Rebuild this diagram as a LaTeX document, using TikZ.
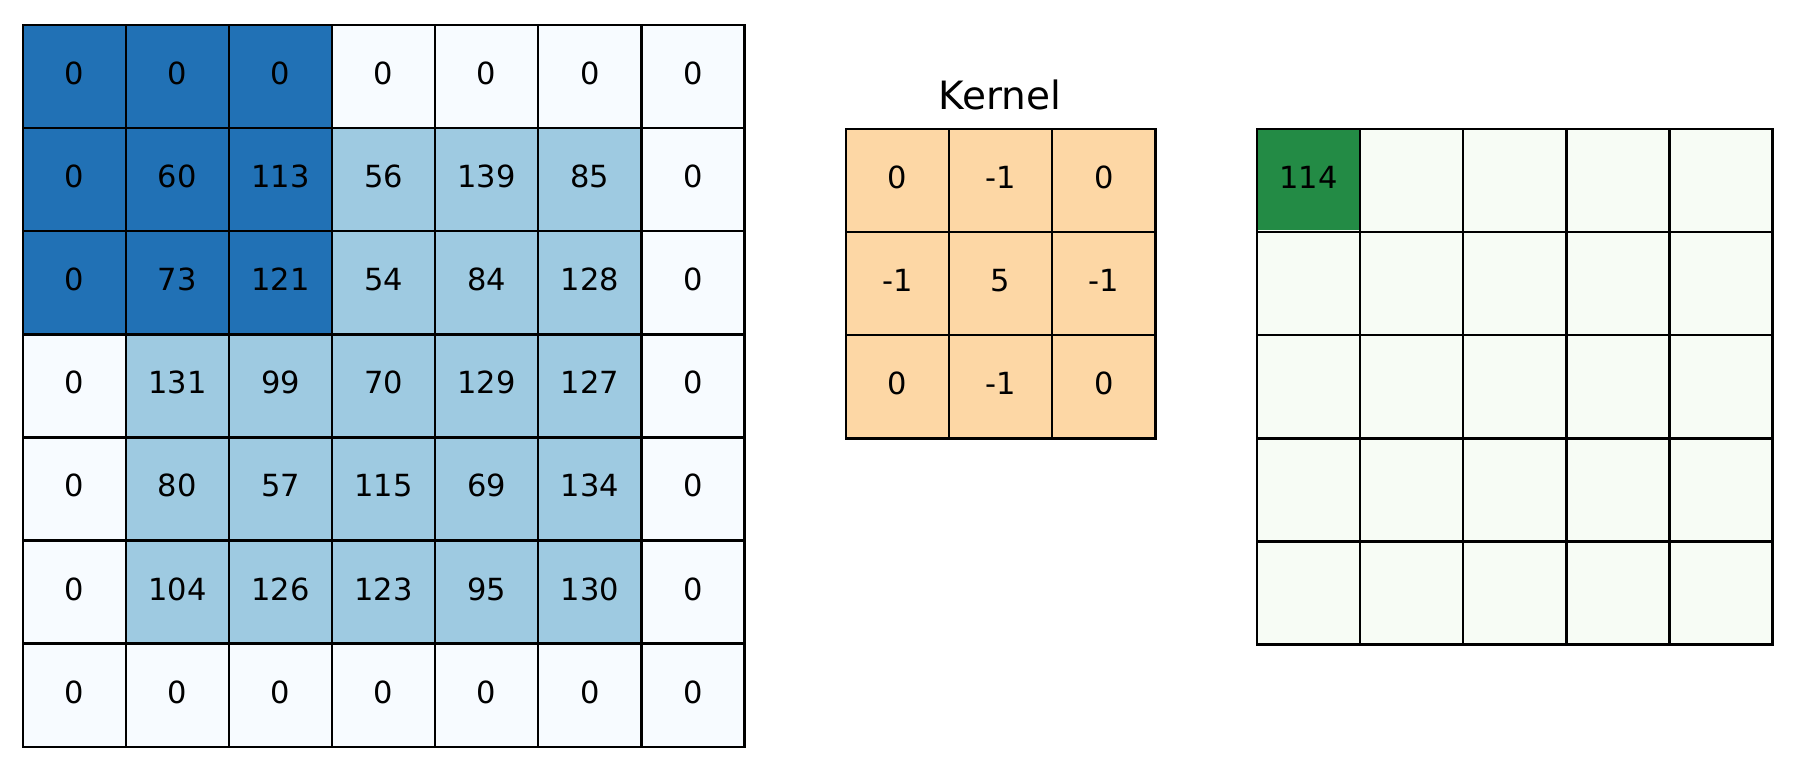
\documentclass[tikz,border=0pt]{standalone}
\usepackage{fontspec}
\setmainfont{DejaVu Sans}
\definecolor{padc}{HTML}{F7FBFF}
\definecolor{inc}{HTML}{9ECAE1}
\definecolor{hlblue}{HTML}{2171B5}
\definecolor{kerc}{RGB}{253,215,165}
\definecolor{outc}{HTML}{F7FCF5}
\definecolor{hlgreen}{HTML}{238B45}
\pgfdeclarelayer{bg}
\pgfdeclarelayer{mid}
\pgfsetlayers{bg,mid,main}
\begin{document}
\begin{tikzpicture}[x=1pt,y=-1pt,
  cellbox/.style={draw=black, line width=2.4pt, minimum size=103.1pt, inner sep=0pt,
    text height=22pt, text depth=6pt, font=\fontsize{30.5}{36}\selectfont},
  titletext/.style={anchor=base, inner sep=0pt, font=\fontsize{39}{46}\selectfont}]
\begin{pgfonlayer}{bg}
  \fill[white] (0,0) rectangle (1804,772);
\end{pgfonlayer}
\useasboundingbox (0,0) rectangle (1804,772);
% input grid
\foreach \row [count=\r from 0] in {{0,0,0,0,0,0,0},{0,60,113,56,139,85,0},{0,73,121,54,84,128,0},{0,131,99,70,129,127,0},{0,80,57,115,69,134,0},{0,104,126,123,95,130,0},{0,0,0,0,0,0,0}}{
  \foreach \v [count=\c from 0] in \row {
    \pgfmathtruncatemacro\edgecell{(\r==0||\r==6||\c==0||\c==6)?1:0}
    \ifnum\edgecell=1 \def\fc{padc}\else\def\fc{inc}\fi
    \begin{pgfonlayer}{bg}
      \fill[\fc] (22.7+\c*103.1, 25+\r*103.1) rectangle ++(103.1,103.1);
    \end{pgfonlayer}
    \node[cellbox] (L-\r-\c) at (22.7+\c*103.1+51.55, 25+\r*103.1+51.55) {\v};
  }
}
\begin{pgfonlayer}{mid}
  \fill[hlblue] (L-0-0.north west) rectangle ([yshift=3pt]L-2-2.south east);
\end{pgfonlayer}
% kernel
\node[titletext] (title) at (1000.2,109.3) {Kernel};
\foreach \row [count=\r from 0] in {{0,-1,0},{-1,5,-1},{0,-1,0}}{
  \foreach \v [count=\c from 0] in \row {
    \begin{pgfonlayer}{bg}
      \fill[kerc] (846+\c*103.1, 129+\r*103.1) rectangle ++(103.1,103.1);
    \end{pgfonlayer}
    \node[cellbox] (K-\r-\c) at (846+\c*103.1+51.55, 129+\r*103.1+51.55) {\v};
  }
}
% output
\foreach \r in {0,...,4}{
  \foreach \c in {0,...,4}{
    \begin{pgfonlayer}{bg}
      \fill[outc] (1257+\c*103.1, 129+\r*103.1) rectangle ++(103.1,103.1);
    \end{pgfonlayer}
    \node[cellbox] (O-\r-\c) at (1257+\c*103.1+51.55, 129+\r*103.1+51.55) {\ifnum\r=0 \ifnum\c=0 114\fi\fi};
  }
}
\begin{pgfonlayer}{mid}
  \fill[hlgreen] (O-0-0.north west) rectangle ([yshift=3pt]O-0-0.south east);
\end{pgfonlayer}
\end{tikzpicture}
\end{document}
